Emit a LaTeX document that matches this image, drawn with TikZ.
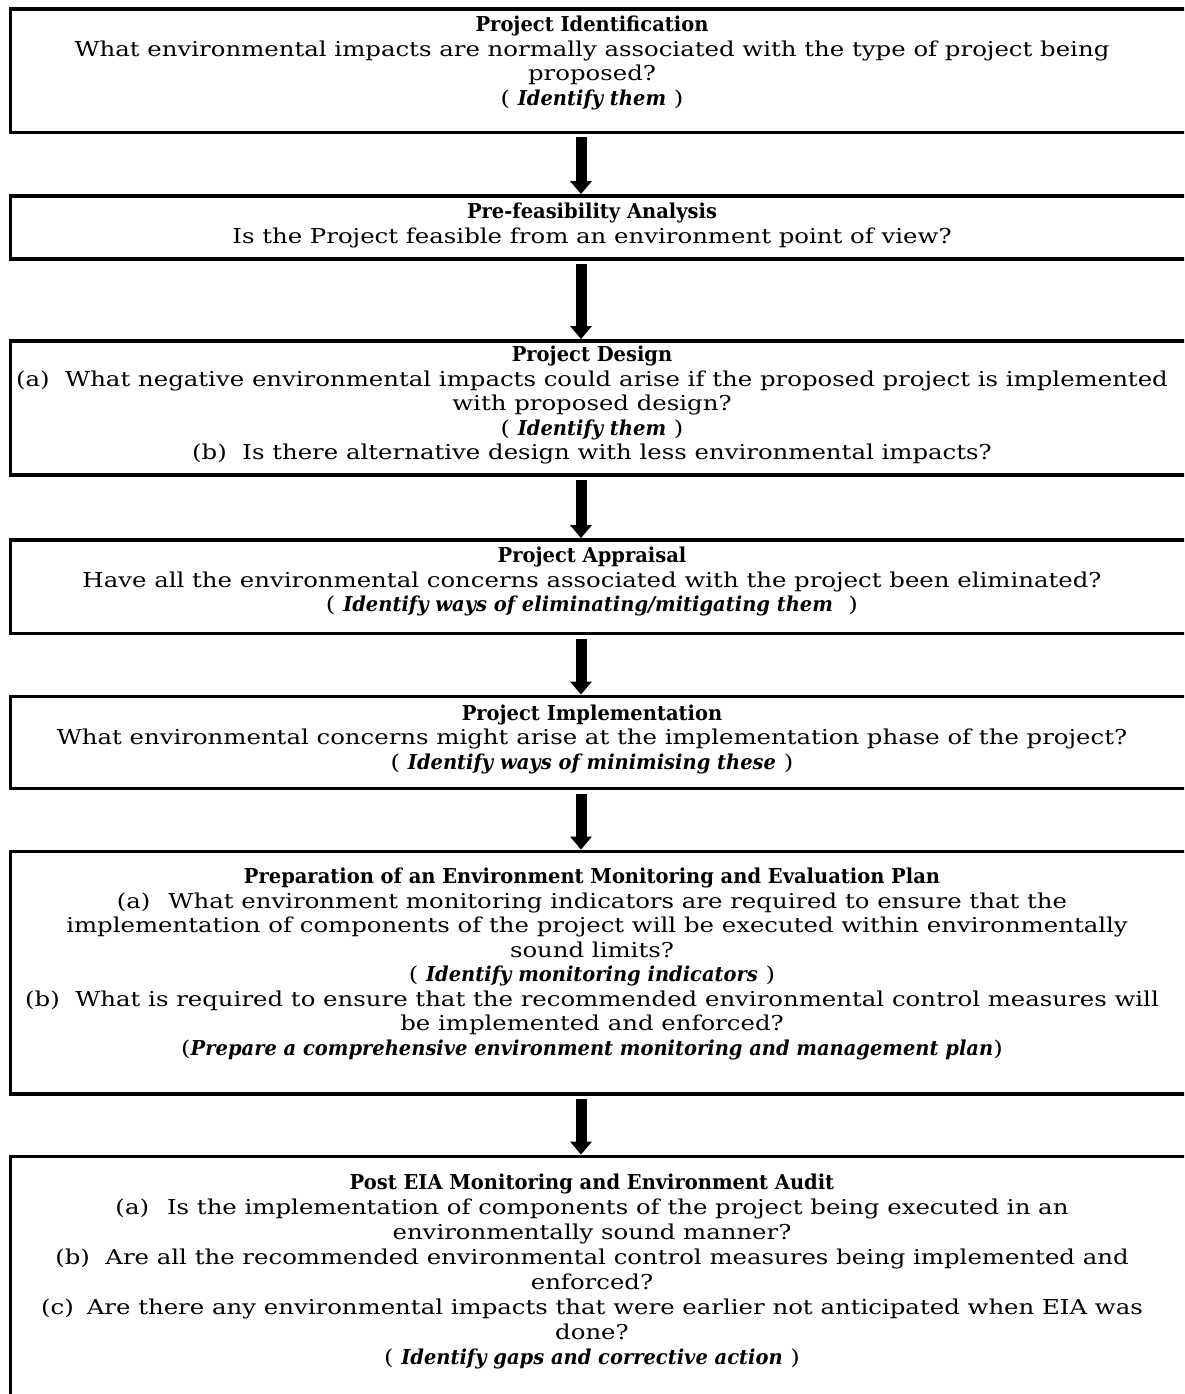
\documentclass[tikz,border=0pt]{standalone}
\usepackage{fontspec}
\setmainfont{DejaVu Serif}[UprightFeatures={FakeStretch=1.19},BoldFeatures={FakeStretch=0.95},BoldItalicFeatures={FakeStretch=0.95}]
\usetikzlibrary{arrows.meta,calc}
\newcommand\embi[1]{\textbf{\textit{#1}}}
\begin{document}
\begin{tikzpicture}[x=1pt,y=-1pt,
  box/.style={draw, line width=3.8pt, rectangle, inner sep=0pt, outer sep=0pt, anchor=north west, minimum width=1190pt},
  flow/.style={line width=11pt, -{Triangle[width=21pt,length=13pt]}},
  txt/.style={align=center, font=\fontsize{20.5}{24.5}\selectfont, inner sep=0pt, anchor=north}]
\useasboundingbox (0,0) rectangle (1184,1394);
\clip (0,0) rectangle (1184,1394);
\fill[white] (0,0) rectangle (1184,1394);
\coordinate (ax) at (581,0);
% boxes
\node[box, minimum height=123.5pt] (b1) at (10.5,9) {};
\node[box, minimum height=63pt] (b2) at (10.5,196) {};
\node[box, minimum height=134pt] (b3) at (10.5,341) {};
\node[box, minimum height=93.5pt] (b4) at (10.5,540) {};
\node[box, minimum height=92pt] (b5) at (10.5,696.5) {};
\node[box, minimum height=242.5pt] (b6) at (10.5,851.5) {};
\node[box, minimum height=260pt] (b7) at (10.5,1156.5) {};
% texts
\node[txt] (t1) at (592,16) {\textbf{Project Identification}\\
What environmental impacts are normally associated with the type of project being\\
proposed?\\
( \embi{Identify them} )};
\node[txt] (t2) at (592,203) {\textbf{Pre-feasibility Analysis}\\
Is the Project feasible from an environment point of view?};
\node[txt] (t3) at (592,346) {\textbf{Project Design}\\
(a)\ \ What negative environmental impacts could arise if the proposed project is implemented\\
with proposed design?\\
( \embi{Identify them} )\\
(b)\ \ Is there alternative design with less environmental impacts?};
\node[txt] (t4) at (592,547) {\textbf{Project Appraisal}\\
Have all the environmental concerns associated with the project been eliminated?\\
( \embi{Identify ways of eliminating/mitigating them}\ \ )};
\node[txt] (t5) at (592,704.5) {\textbf{Project Implementation}\\
What environmental concerns might arise at the implementation phase of the project?\\
( \embi{Identify ways of minimising these} )};
\node[txt] (t6) at (592,868) {\textbf{Preparation of an Environment Monitoring and Evaluation Plan}\\
(a)\hspace{18pt}What environment monitoring indicators are required to ensure that the\\
\hspace*{10pt}implementation of components of the project will be executed within environmentally\\
sound limits?\\
( \embi{Identify monitoring indicators} )\\
(b)\ \ What is required to ensure that the recommended environmental control measures will\\
be implemented and enforced?\\
(\embi{Prepare a comprehensive environment monitoring and management plan})};
\node[txt, font=\fontsize{20.5}{25}\selectfont] (t7) at (592,1174) {\textbf{Post EIA Monitoring and Environment Audit}\\
(a)\hspace{18pt}Is the implementation of components of the project being executed in an\\
environmentally sound manner?\\
(b)\ \ Are all the recommended environmental control measures being implemented and\\
enforced?\\
(c)\hspace{13pt}Are there any environmental impacts that were earlier not anticipated when EIA was\\
done?\\
( \embi{Identify gaps and corrective action} )};
% arrows
\draw[flow] ($(b1.south -| ax)+(0,5)$) -- ($(b2.north -| ax)+(0,-1.9)$);
\draw[flow] ($(b2.south -| ax)+(0,5)$) -- ($(b3.north -| ax)+(0,-1.9)$);
\draw[flow] ($(b3.south -| ax)+(0,5)$) -- ($(b4.north -| ax)+(0,-1.9)$);
\draw[flow] ($(b4.south -| ax)+(0,5)$) -- ($(b5.north -| ax)+(0,-1.9)$);
\draw[flow] ($(b5.south -| ax)+(0,5)$) -- ($(b6.north -| ax)+(0,-1.9)$);
\draw[flow] ($(b6.south -| ax)+(0,5)$) -- ($(b7.north -| ax)+(0,-1.9)$);
\end{tikzpicture}
\end{document}
